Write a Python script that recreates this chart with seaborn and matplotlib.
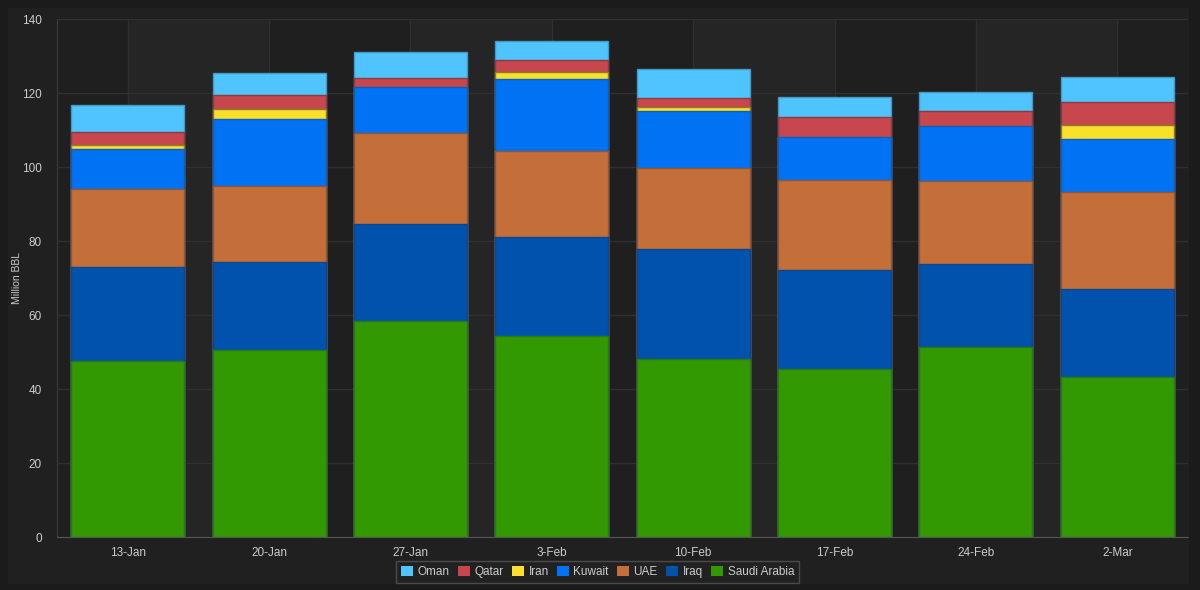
import numpy as np
import pandas as pd
import matplotlib.pyplot as plt
import seaborn as sns
from matplotlib.patches import Patch, Rectangle

# weekly loadings, million barrels
weeks = ['13-Jan', '20-Jan', '27-Jan', '3-Feb', '10-Feb', '17-Feb', '24-Feb', '2-Mar']
saudi = [47.6, 50.5, 58.5, 54.4, 48.2, 45.4, 51.3, 43.2]
iraq = [25.5, 23.8, 26.1, 26.8, 29.7, 26.7, 22.6, 23.8]
uae = [20.9, 20.7, 24.7, 23.0, 21.8, 24.3, 22.2, 26.3]
kuwait = [10.8, 18.0, 12.3, 19.6, 15.5, 11.8, 14.9, 14.3]
iran = [1.1, 2.7, 0.0, 2.0, 1.1, 0.0, 0.0, 3.8]
qatar = [3.6, 3.8, 2.5, 3.1, 2.3, 5.3, 4.2, 6.3]
oman = [7.3, 5.8, 6.9, 5.2, 8.0, 5.4, 5.0, 6.5]

# bottom -> top
series = ['Saudi Arabia', 'Iraq', 'UAE', 'Kuwait', 'Iran', 'Qatar', 'Oman']
fills = {'Saudi Arabia': '#339900', 'Iraq': '#0052ad', 'UAE': '#c46e39',
         'Kuwait': '#0073f5', 'Iran': '#f9e02a', 'Qatar': '#c8474f', 'Oman': '#50c4ff'}
edges = {'Saudi Arabia': '#2b7a10', 'Iraq': '#0d468a', 'UAE': '#955533',
         'Kuwait': '#105db8', 'Iran': '#8a7a2a', 'Qatar': '#8a3c40', 'Oman': '#4499c4'}

df = pd.DataFrame({'Saudi Arabia': saudi, 'Iraq': iraq, 'UAE': uae, 'Kuwait': kuwait,
                   'Iran': iran, 'Qatar': qatar, 'Oman': oman}, index=weeks)
cum = df[series].cumsum(axis=1)

sns.set_style('dark')
plt.rcParams['font.family'] = ['Liberation Sans', 'DejaVu Sans']

fig = plt.figure(figsize=(12, 5.9), dpi=100, facecolor='#1b1b1b')
fig.patches.append(Rectangle((8 / 1200, 6 / 590), 1181 / 1200, 576 / 590,
                             transform=fig.transFigure, facecolor='#202020',
                             edgecolor='none', zorder=-10))
ax = fig.add_axes([57 / 1200, 53 / 590, 1131 / 1200, 518 / 590])
ax.set_facecolor('#1f1f1f')

# overlay cumulative bars, tallest first
for name in reversed(series):
    sns.barplot(x=weeks, y=cum[name].values, color=fills[name], saturation=1,
                edgecolor=edges[name], linewidth=1.0, width=0.8, errorbar=None,
                ax=ax, zorder=3)

# alternating column bands between category centres
for i in range(0, len(weeks) - 1, 2):
    ax.axvspan(i, i + 1, color='#252525', zorder=0, lw=0)

ax.set_xlim(-0.5, len(weeks) - 0.5)
ax.set_ylim(0, 140)
ax.set_yticks(range(0, 141, 20))
ax.set_axisbelow(True)
ax.grid(True, axis='both', color='#2f2f2f', linewidth=1)

for s in ['top', 'right']:
    ax.spines[s].set_visible(False)
ax.spines['bottom'].set_color('#555555')
ax.spines['left'].set_color('#3a3a3a')

ax.tick_params(axis='x', colors='#cccccc', labelsize=8.5, length=4, color='#555555', pad=3)
ax.tick_params(axis='y', colors='#cccccc', labelsize=8.5, length=0, pad=11)
ax.set_xlabel('')
ax.set_ylabel('Million BBL', color='#cccccc', fontsize=7.5)
ax.yaxis.set_label_coords(-0.031, 0.5)

handles = [Patch(facecolor=fills[n], edgecolor='none', label=n) for n in reversed(series)]
leg = fig.legend(handles=handles, loc='lower center', bbox_to_anchor=(0.498, 0.012),
                 borderaxespad=0, ncol=7, fontsize=8.5, frameon=True,
                 handlelength=1.0, handleheight=1.0, handletextpad=0.4,
                 columnspacing=0.7, borderpad=0.4,
                 facecolor='#222222', edgecolor='#555555', labelcolor='#cccccc',
                 fancybox=False)
leg.get_frame().set_linewidth(1)

fig.savefig('out.png', dpi=100, facecolor=fig.get_facecolor())
